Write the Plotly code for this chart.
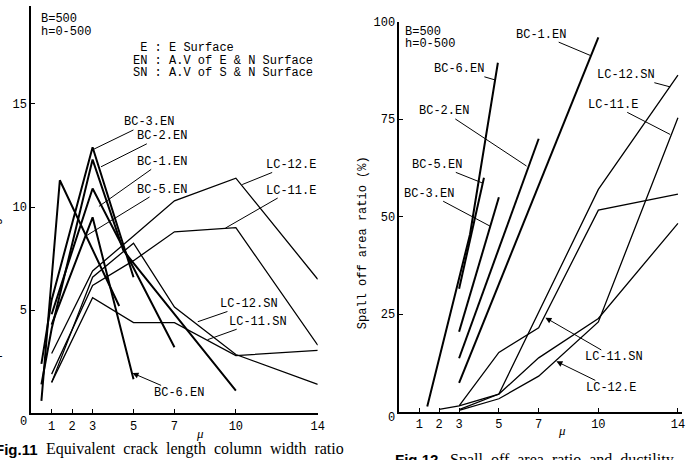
import plotly.graph_objects as go

W, H = 689, 460

# ---------------- Fig.11 : crack length / column width ratio vs mu ----------------
f11_bc3_mu = [0.5, 1, 3, 5]
f11_bc3_r = [2.4, 5.5, 12.9, 6.6]
f11_bc2_mu = [0.5, 1, 3, 4.5, 10]
f11_bc2_r = [1.4, 4.1, 12.3, 7.9, 1.1]
f11_bc1_mu = [1, 3, 7]
f11_bc1_r = [4.8, 10.9, 3.2]
f11_bc5_mu = [1, 3, 5]
f11_bc5_r = [4.3, 9.5, 1.65]
f11_bc6_mu = [0.5, 1.4, 4.3]
f11_bc6_r = [0.6, 11.3, 5.2]
f11_lc_mu = [1, 3, 5, 7, 10, 14]
f11_lc12e_r = [2.9, 6.9, 8.6, 10.3, 11.4, 6.5]
f11_lc11e_r = [1.9, 6.2, 7.4, 8.8, 9.0, 3.3]
f11_lc12sn_r = [1.5, 6.6, 8.25, 5.15, 2.85, 1.4]
f11_lc11sn_r = [1.5, 5.6, 4.4, 4.4, 2.8, 3.05]
f11_xticks = [1, 2, 3, 5, 7, 10, 14]
f11_yticks = [5, 10, 15]

# ---------------- Fig.12 : spall off area ratio (%) vs mu ----------------
f12_bc6_mu = [1.4, 3.55, 4.95]
f12_bc6_p = [1.3, 45.5, 89.5]
f12_bc5_mu = [3, 4.25]
f12_bc5_p = [31.5, 60]
f12_bc3_mu = [3, 5]
f12_bc3_p = [20.5, 55]
f12_bc2_mu = [3, 7]
f12_bc2_p = [13.7, 70]
f12_bc1_mu = [3, 10]
f12_bc1_p = [7.4, 96]
f12_lc12e_mu = [2, 3, 5, 7, 10, 14]
f12_lc12e_p = [0.6, 1.5, 4.5, 13.8, 23.9, 48.3]
f12_lc11e_mu = [3, 5, 7, 10, 14]
f12_lc11e_p = [0.3, 3.3, 9.1, 23, 75.4]
f12_lc11sn_mu = [3, 5, 7, 10, 14]
f12_lc11sn_p = [1.5, 15.2, 21.5, 51.7, 55.8]
f12_lc12sn_mu = [3, 5, 10, 14]
f12_lc12sn_p = [0.5, 4.5, 57, 86.3]
f12_xticks = [1, 2, 3, 5, 7, 10, 14]
f12_yticks = [25, 50, 75, 100]

MONO = "Liberation Mono, Courier New, monospace"
SERIF = "Liberation Serif, Times New Roman, serif"
SANS = "Liberation Sans, Arial, sans-serif"
BC_W = 2.0
LC_W = 1.3
GAP = "&nbsp;&nbsp;"


def px(x):
    return x / W


def py(y):
    return 1 - y / H


fig = go.Figure()


def add_line(xs, ys, width, xa, ya, name):
    fig.add_trace(go.Scatter(x=xs, y=ys, mode="lines", name=name,
                             line=dict(color="black", width=width),
                             xaxis=xa, yaxis=ya, showlegend=False,
                             hoverinfo="skip"))


# left panel
add_line(f11_bc3_mu, f11_bc3_r, BC_W, "x", "y", "BC-3.EN")
add_line(f11_bc2_mu, f11_bc2_r, BC_W, "x", "y", "BC-2.EN")
add_line(f11_bc1_mu, f11_bc1_r, BC_W, "x", "y", "BC-1.EN")
add_line(f11_bc5_mu, f11_bc5_r, BC_W, "x", "y", "BC-5.EN")
add_line(f11_bc6_mu, f11_bc6_r, BC_W, "x", "y", "BC-6.EN")
add_line(f11_lc_mu, f11_lc12e_r, LC_W, "x", "y", "LC-12.E")
add_line(f11_lc_mu, f11_lc11e_r, LC_W, "x", "y", "LC-11.E")
add_line(f11_lc_mu, f11_lc12sn_r, LC_W, "x", "y", "LC-12.SN")
add_line(f11_lc_mu, f11_lc11sn_r, LC_W, "x", "y", "LC-11.SN")

# right panel
add_line(f12_bc6_mu, f12_bc6_p, BC_W, "x2", "y2", "BC-6.EN")
add_line(f12_bc5_mu, f12_bc5_p, BC_W, "x2", "y2", "BC-5.EN")
add_line(f12_bc3_mu, f12_bc3_p, BC_W, "x2", "y2", "BC-3.EN")
add_line(f12_bc2_mu, f12_bc2_p, BC_W, "x2", "y2", "BC-2.EN")
add_line(f12_bc1_mu, f12_bc1_p, BC_W, "x2", "y2", "BC-1.EN")
add_line(f12_lc12e_mu, f12_lc12e_p, LC_W, "x2", "y2", "LC-12.E")
add_line(f12_lc11e_mu, f12_lc11e_p, LC_W, "x2", "y2", "LC-11.E")
add_line(f12_lc11sn_mu, f12_lc11sn_p, LC_W, "x2", "y2", "LC-11.SN")
add_line(f12_lc12sn_mu, f12_lc12sn_p, LC_W, "x2", "y2", "LC-12.SN")

ann = []

# leader labels: (text, tip_x, tip_y, text_x, text_y, arrowhead)
left_labels = [
    ("BC-3.EN", 3.07, 12.81, 5.75, 14.10, 0),
    ("BC-2.EN", 3.41, 11.95, 6.38, 13.43, 0),
    ("BC-1.EN", 3.31, 10.03, 6.38, 12.19, 0),
    ("BC-5.EN", 2.68, 8.60, 6.38, 10.85, 0),
    ("LC-12.E", 10.31, 11.09, 12.68, 12.04, 0),
    ("LC-11.E", 9.49, 8.98, 12.68, 10.80, 0),
    ("LC-12.SN", 8.14, 4.44, 10.65, 5.30, 0),
    ("LC-11.SN", 8.62, 3.57, 11.06, 4.44, 0),
    ("BC-6.EN", 4.95, 1.95, 7.20, 0.99, 2),
]
right_labels = [
    ("BC-1.EN", 9.58, 91.4, 7.11, 96.7, 0),
    ("BC-6.EN", 4.80, 85.1, 2.99, 87.8, 0),
    ("BC-2.EN", 6.39, 63.0, 2.24, 77.0, 0),
    ("BC-5.EN", 4.15, 58.7, 1.89, 63.3, 0),
    ("BC-3.EN", 4.55, 47.6, 1.49, 55.9, 0),
    ("LC-12.SN", 13.61, 83.3, 11.39, 86.3, 0),
    ("LC-11.E", 13.61, 71.1, 10.72, 78.7, 0),
    ("LC-11.SN", 7.34, 24.1, 10.80, 13.9, 2),
    ("LC-12.E", 7.89, 12.9, 10.62, 6.1, 2),
]
for labs, xr, yr in ((left_labels, "x", "y"), (right_labels, "x2", "y2")):
    for t, tx, ty, lx, ly, head in labs:
        ann.append(dict(text=t, x=tx, y=ty, ax=lx, ay=ly, xref=xr, yref=yr,
                        axref=xr, ayref=yr, showarrow=True, arrowhead=head,
                        arrowsize=1.2, arrowwidth=1, arrowcolor="black",
                        standoff=0, startstandoff=0, borderpad=0,
                        font=dict(family=MONO, size=12, color="black")))


def text_px(t, x, y, xanchor="left", size=12, family=MONO, angle=0, yanchor="middle"):
    ann.append(dict(text=t, x=px(x), y=py(y), xref="paper", yref="paper",
                    showarrow=False, xanchor=xanchor, yanchor=yanchor,
                    textangle=angle, borderpad=0,
                    font=dict(family=family, size=size, color="black")))


# left panel texts
text_px("B=500", 40, 13)
text_px("h=0-500", 40, 26)
text_px(" E : E Surface", 133, 43)
text_px("EN : A.V of E &amp; N Surface", 133, 55.5)
text_px("SN : A.V of S &amp; N Surface", 133, 68)
text_px("0", 24, 421, xanchor="center")
text_px("<i>μ</i>", 202, 433, xanchor="center", size=13, family=SERIF)
text_px("<b>Fig.11</b>", 39, 449, xanchor="right", size=15, family=SANS)
text_px(GAP.join(["Equivalent", "crack", "length", "column", "width", "ratio"]),
        45, 449, size=16, family=SERIF)
text_px("Equivalent crack length column width ratio", -4, 215,
        xanchor="center", angle=-90, size=12)
ann.append(dict(text="20", x=0, y=20, xref="x", yref="y", xshift=-11,
                showarrow=False, xanchor="center", yanchor="middle",
                font=dict(family=MONO, size=12, color="black")))

# right panel texts
text_px("B=500", 408, 26)
text_px("h=0-500", 408, 38.5)
text_px("0", 396, 417, xanchor="center")
text_px("<i>μ</i>", 568, 430, xanchor="center", size=13, family=SERIF)
text_px("Spall off area ratio (%)", 367, 240, xanchor="center", angle=-90, size=12)
text_px("<b>Fig.12</b>", 398, 450, size=15, yanchor="top", family=SANS)
text_px(GAP.join(["Spall", "off", "area", "ratio", "and", "ductility"]),
        454, 450, size=16, yanchor="top", family=SERIF)

axis_common = dict(showline=True, linecolor="black", linewidth=1.8,
                   showgrid=False, zeroline=False, ticks="inside", ticklen=4,
                   tickwidth=1.2, tickcolor="black",
                   tickfont=dict(family=MONO, size=12, color="black"))

fig.update_layout(
    width=W, height=H, margin=dict(l=0, r=0, t=0, b=0),
    paper_bgcolor="white", plot_bgcolor="white", showlegend=False,
    xaxis=dict(domain=[px(31.5), px(321)], range=[0, 14], anchor="y",
               tickvals=f11_xticks, ticktext=[str(v) for v in f11_xticks],
               **axis_common),
    yaxis=dict(domain=[py(412.7), 1], range=[0, 412.7 / 20.9], anchor="x",
               tickvals=f11_yticks, ticktext=[str(v) for v in f11_yticks],
               **axis_common),
    xaxis2=dict(domain=[px(403.5), 1], range=[0, (689 - 403.5) / 20.1], anchor="y2",
                tickvals=f12_xticks, ticktext=[str(v) for v in f12_xticks],
                **axis_common),
    yaxis2=dict(domain=[py(411), py(16)], range=[0, 100], anchor="x2",
                tickvals=f12_yticks, ticktext=[str(v) for v in f12_yticks],
                **axis_common),
    annotations=ann,
)

fig.write_html("out.html")
